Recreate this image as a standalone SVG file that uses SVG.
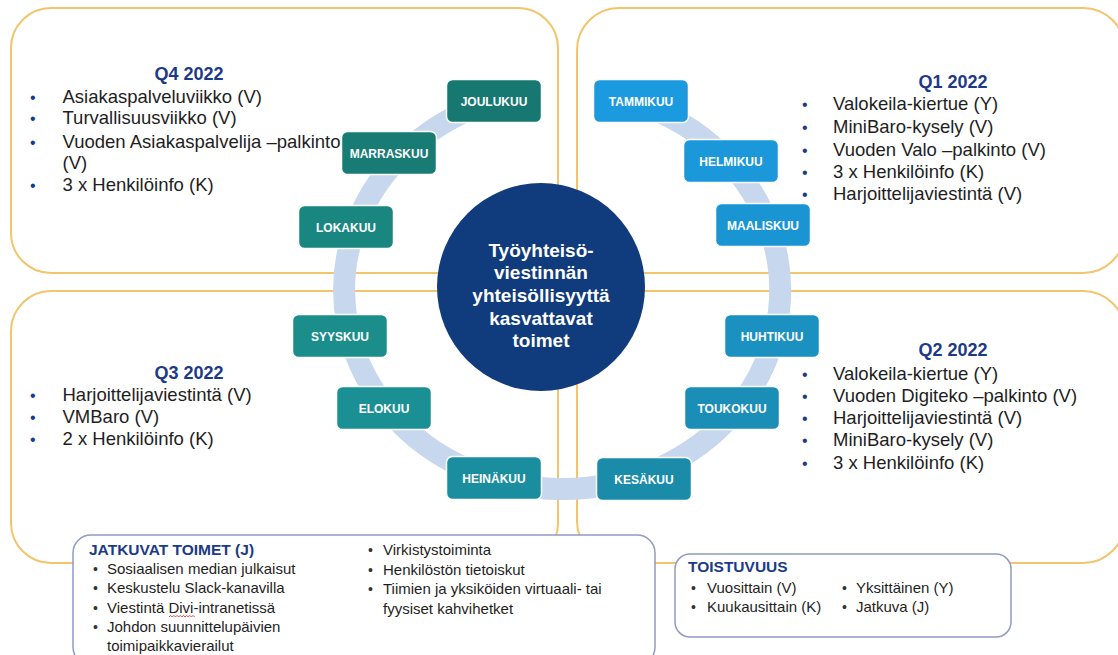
<svg xmlns="http://www.w3.org/2000/svg" width="1118" height="655" viewBox="0 0 1118 655">
<style>
  text { font-family: "Liberation Sans", Arial, sans-serif; }
  .frame { fill: none; stroke: #F2C46C; stroke-width: 2; }
  .ring { fill: none; stroke: #C7D7ED; stroke-width: 22; }
  .month rect { stroke: #ffffff; stroke-width: 1.5; }
  .month text { fill: #ffffff; font-weight: bold; font-size: 12px; text-anchor: middle; }
  .qt { fill: #1C3A87; font-weight: bold; font-size: 18px; text-anchor: middle; }
  .qi { fill: #1E1E1E; font-size: 18.5px; }
  .qb { fill: #1C3A87; font-size: 16px; }
  .bx { fill: #ffffff; stroke: #8E9CC2; stroke-width: 1.5; }
  .bt { fill: #1C3A87; font-weight: bold; font-size: 15.5px; }
  .bi { fill: #1E1E1E; font-size: 15px; }
  .bb { fill: #333333; font-size: 14px; }
  .center text { fill: #ffffff; font-weight: bold; font-size: 19px; text-anchor: middle; }
</style>
<rect x="0" y="0" width="1118" height="655" fill="#ffffff"/>

<g id="frames">
  <rect class="frame" x="11" y="8" width="547" height="265" rx="40"/>
  <rect class="frame" x="577" y="8" width="548" height="265" rx="42"/>
  <rect class="frame" x="11" y="291" width="547" height="272" rx="40"/>
  <rect class="frame" x="577" y="291" width="548" height="272" rx="42"/>
</g>

<g id="connectors">
  <path class="ring" d="M641,104.5 A218,199 0 1 1 494,101"/>
</g>

<g id="center" class="center">
  <circle cx="541" cy="287" r="104" fill="#103B7C"/>
  <text x="541" y="256.5">Työyhteisö-</text>
  <text x="541" y="278.5">viestinnän</text>
  <text x="541" y="301.5">yhteisöllisyyttä</text>
  <text x="541" y="324.5">kasvattavat</text>
  <text x="541" y="346.5">toimet</text>
</g>

<g id="m-joulukuu" class="month"><rect x="446.5" y="79.5" width="95" height="43" rx="6" fill="#167870"/><text x="494" y="105.5">JOULUKUU</text></g>
<g id="m-marraskuu" class="month"><rect x="341.5" y="131.5" width="95" height="43" rx="6" fill="#187C74"/><text x="389" y="157.5">MARRASKUU</text></g>
<g id="m-lokakuu" class="month"><rect x="298.5" y="205.5" width="95" height="43" rx="6" fill="#1A8680"/><text x="346" y="231.5">LOKAKUU</text></g>
<g id="m-syyskuu" class="month"><rect x="292.5" y="314.5" width="95" height="43" rx="6" fill="#1B8E8C"/><text x="340" y="340.5">SYYSKUU</text></g>
<g id="m-elokuu" class="month"><rect x="336.5" y="386.5" width="95" height="43" rx="6" fill="#1A9094"/><text x="384" y="412.5">ELOKUU</text></g>
<g id="m-heinakuu" class="month"><rect x="446.5" y="456.5" width="95" height="43" rx="6" fill="#1A8E9E"/><text x="494" y="482.5">HEINÄKUU</text></g>
<g id="m-tammikuu" class="month"><rect x="593.5" y="79.5" width="95" height="43" rx="6" fill="#1C9AE0"/><text x="641" y="105.5">TAMMIKUU</text></g>
<g id="m-helmikuu" class="month"><rect x="683.5" y="139.5" width="95" height="43" rx="6" fill="#1A98DA"/><text x="731" y="165.5">HELMIKUU</text></g>
<g id="m-maaliskuu" class="month"><rect x="715.5" y="203.5" width="95" height="43" rx="6" fill="#1895D2"/><text x="763" y="229.5">MAALISKUU</text></g>
<g id="m-huhtikuu" class="month"><rect x="724.5" y="314.5" width="95" height="43" rx="6" fill="#1A91C0"/><text x="772" y="340.5">HUHTIKUU</text></g>
<g id="m-toukokuu" class="month"><rect x="684.5" y="386.5" width="95" height="43" rx="6" fill="#1A8EB6"/><text x="732" y="412.5">TOUKOKUU</text></g>
<g id="m-kesakuu" class="month"><rect x="596.5" y="457.5" width="95" height="43" rx="6" fill="#1A8CAA"/><text x="644" y="483.5">KESÄKUU</text></g>

<g id="q4">
  <text class="qt" x="189" y="79.5">Q4 2022</text>
  <text class="qb" x="30" y="103">•</text><text class="qi" x="62.5" y="103">Asiakaspalveluviikko (V)</text>
  <text class="qb" x="30" y="124">•</text><text class="qi" x="62.5" y="124">Turvallisuusviikko (V)</text>
  <text class="qb" x="30" y="148">•</text><text class="qi" x="62.5" y="148">Vuoden Asiakaspalvelija –palkinto</text>
  <text class="qi" x="62.5" y="169">(V)</text>
  <text class="qb" x="30" y="191">•</text><text class="qi" x="62.5" y="191">3 x Henkilöinfo (K)</text>
</g>

<g id="q1">
  <text class="qt" x="953" y="88">Q1 2022</text>
  <text class="qb" x="802" y="110">•</text><text class="qi" x="833" y="110">Valokeila-kiertue (Y)</text>
  <text class="qb" x="802" y="133">•</text><text class="qi" x="833" y="133">MiniBaro-kysely (V)</text>
  <text class="qb" x="802" y="156">•</text><text class="qi" x="833" y="156">Vuoden Valo –palkinto (V)</text>
  <text class="qb" x="802" y="178">•</text><text class="qi" x="833" y="178">3 x Henkilöinfo (K)</text>
  <text class="qb" x="802" y="200">•</text><text class="qi" x="833" y="200">Harjoittelijaviestintä (V)</text>
</g>

<g id="q3">
  <text class="qt" x="189" y="378.5">Q3 2022</text>
  <text class="qb" x="30" y="401">•</text><text class="qi" x="62.5" y="401">Harjoittelijaviestintä (V)</text>
  <text class="qb" x="30" y="423">•</text><text class="qi" x="62.5" y="423">VMBaro (V)</text>
  <text class="qb" x="30" y="445">•</text><text class="qi" x="62.5" y="445">2 x Henkilöinfo (K)</text>
</g>

<g id="q2">
  <text class="qt" x="953" y="356">Q2 2022</text>
  <text class="qb" x="802" y="379.5">•</text><text class="qi" x="833" y="379.5">Valokeila-kiertue (Y)</text>
  <text class="qb" x="802" y="401.5">•</text><text class="qi" x="833" y="401.5">Vuoden Digiteko –palkinto (V)</text>
  <text class="qb" x="802" y="423.5">•</text><text class="qi" x="833" y="423.5">Harjoittelijaviestintä (V)</text>
  <text class="qb" x="802" y="445.5">•</text><text class="qi" x="833" y="445.5">MiniBaro-kysely (V)</text>
  <text class="qb" x="802" y="468.5">•</text><text class="qi" x="833" y="468.5">3 x Henkilöinfo (K)</text>
</g>

<g id="jatkuvat">
  <rect class="bx" x="73" y="535" width="582" height="130" rx="18"/>
  <text class="bt" x="89" y="554.5">JATKUVAT TOIMET (J)</text>
  <text class="bb" x="93" y="573.5">•</text><text class="bi" x="107" y="573.5">Sosiaalisen median julkaisut</text>
  <text class="bb" x="93" y="593">•</text><text class="bi" x="107" y="593">Keskustelu Slack-kanavilla</text>
  <text class="bb" x="93" y="612.5">•</text><text class="bi" x="107" y="612.5">Viestintä Divi-intranetissä</text>
  <path d="M169,617 l1.6,-1.6 l1.6,1.6 l1.6,-1.6 l1.6,1.6 l1.6,-1.6 l1.6,1.6 l1.6,-1.6 l1.6,1.6 l1.6,-1.6 l1.6,1.6 l1.6,-1.6 l1.6,1.6 l1.6,-1.6 l1.6,1.6 l1.6,-1.6 l1.6,1.6" fill="none" stroke="#E0342F" stroke-width="0.9"/>
  <text class="bb" x="93" y="632">•</text><text class="bi" x="107" y="632">Johdon suunnittelupäivien</text>
  <text class="bi" x="107" y="650.5">toimipaikkavierailut</text>
  <text class="bb" x="368" y="554.5">•</text><text class="bi" x="383" y="554.5">Virkistystoiminta</text>
  <text class="bb" x="368" y="574.5">•</text><text class="bi" x="383" y="574.5">Henkilöstön tietoiskut</text>
  <text class="bb" x="368" y="594">•</text><text class="bi" x="383" y="594">Tiimien ja yksiköiden virtuaali- tai</text>
  <text class="bi" x="383" y="613.5">fyysiset kahvihetket</text>
</g>

<g id="toistuvuus">
  <rect class="bx" x="675" y="554" width="336" height="83" rx="15"/>
  <text class="bt" x="688" y="571.5">TOISTUVUUS</text>
  <text class="bb" x="691" y="592.5">•</text><text class="bi" x="707" y="592.5">Vuosittain (V)</text>
  <text class="bb" x="691" y="611.5">•</text><text class="bi" x="707" y="611.5">Kuukausittain (K)</text>
  <text class="bb" x="842" y="592.5">•</text><text class="bi" x="856" y="592.5">Yksittäinen (Y)</text>
  <text class="bb" x="842" y="611.5">•</text><text class="bi" x="856" y="611.5">Jatkuva (J)</text>
</g>
</svg>
